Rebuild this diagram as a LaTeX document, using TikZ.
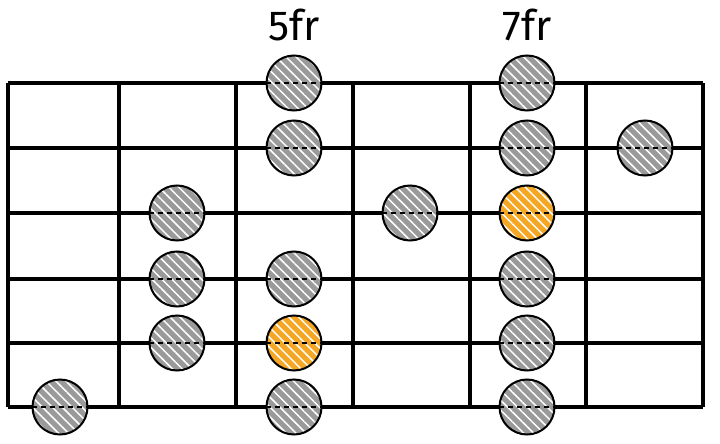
\documentclass[tikz,border=0pt]{standalone}
\usepackage{xcolor}
\usepackage{fontspec}
\usepackage{tikz}
\usetikzlibrary{patterns.meta}
\newfontfamily\frfont{Fira Sans}

\definecolor{dotgray}{HTML}{9A9A9A}
\definecolor{rootorange}{HTML}{F5A623}

\tikzset{
  fretline/.style={black, line width=3.4pt},
  notedot/.style={circle, minimum size=55pt, inner sep=0pt, draw=black, line width=2pt,
    preaction={fill=#1},
    preaction={pattern={Lines[angle=-45,distance=7pt,line width=1.5pt]}, pattern color=white}},
  notedot/.default=dotgray,
  frlabel/.style={font=\frfont\fontsize{42}{44}\selectfont, inner sep=0pt}
}

\begin{document}
\begin{tikzpicture}[x=1pt, y=-1pt]
        \useasboundingbox (0,0) rectangle (720,444);
        % strings
        \foreach \y in {83,148,213,279,343,407}
            \draw [fretline] (8,\y) -- (703,\y);
        % frets
        \foreach \x in {8,119,236,353,470,586,703}
            \draw [fretline] (\x,83) -- (\x,407);
        % fret labels
        \node [frlabel] (lab5) at (294,25) {5fr};
        \node [frlabel] (lab7) at (527,25) {7fr};
        % notes: fret x / string y / name / colour
        \foreach \x/\y/\n/\c in {
            60/407/f3s6/dotgray,
            177/213/f4s3/dotgray, 177/279/f4s4/dotgray, 177/343/f4s5/dotgray,
            294/83/f5s1/dotgray, 294/148/f5s2/dotgray, 294/279/f5s4/dotgray,
            294/343/f5s5/rootorange, 294/407/f5s6/dotgray,
            410/213/f6s3/dotgray,
            527/83/f7s1/dotgray, 527/148/f7s2/dotgray, 527/213/f7s3/rootorange,
            527/279/f7s4/dotgray, 527/343/f7s5/dotgray, 527/407/f7s6/dotgray,
            645/148/f8s2/dotgray}
        {
            \node [notedot=\c] (\n) at (\x,\y) {};
            \draw [black, line width=1.4pt, dash pattern=on 5pt off 4pt] (\n.west) -- (\n.east);
        }
    \end{tikzpicture}
\end{document}
